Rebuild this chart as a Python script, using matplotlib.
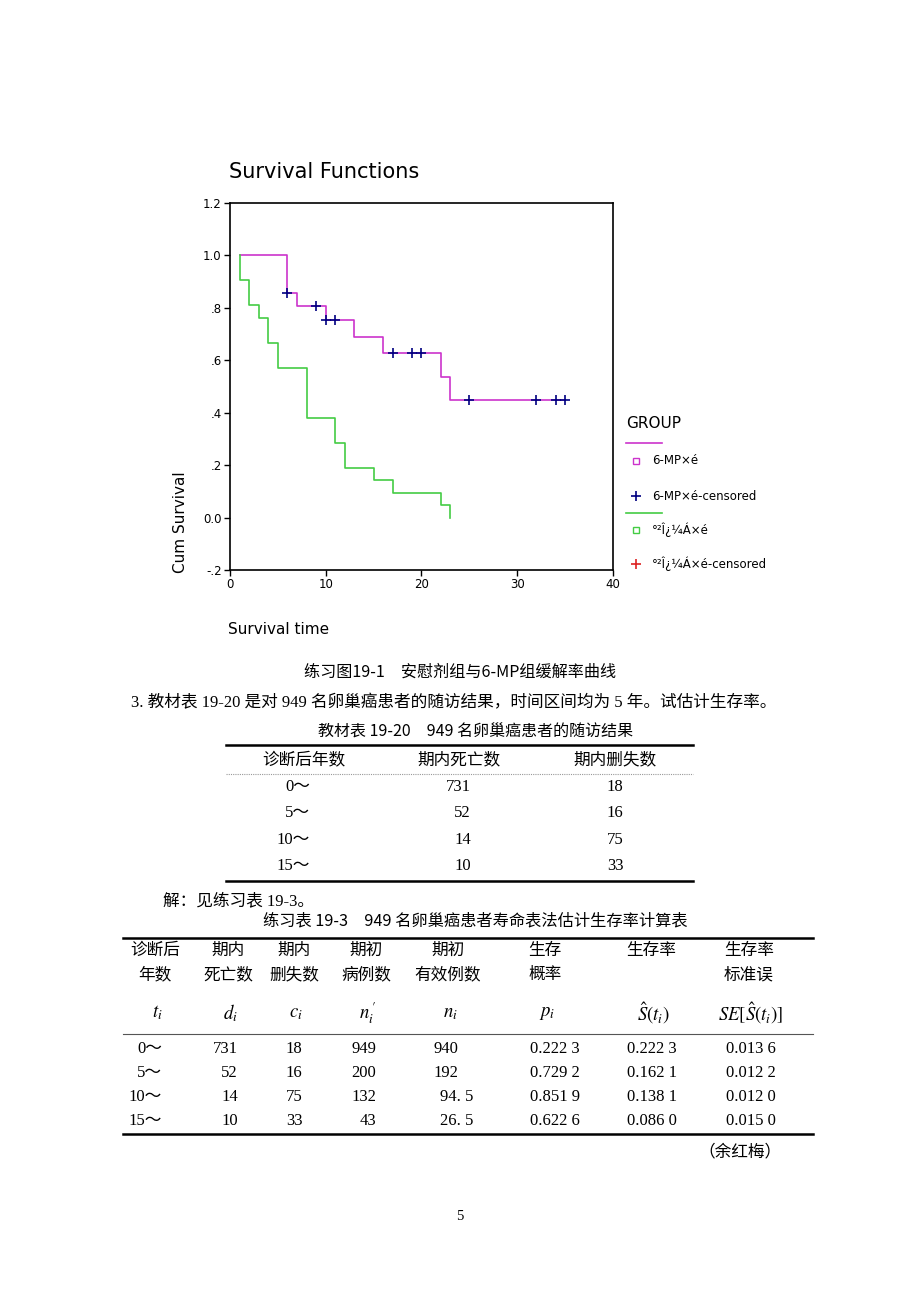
import numpy as np
import matplotlib as mpl
import matplotlib.pyplot as plt

# ---- survival chart data (Kaplan-Meier steps)
mp_t = [1, 6, 7, 10, 13, 16, 22, 23, 35]
mp_s = [1.0, 0.857, 0.807, 0.753, 0.690, 0.627, 0.538, 0.448, 0.448]
mp_cens_t = [6, 9, 10, 11, 17, 19, 20, 25, 32, 34, 35]
mp_cens_s = [0.857, 0.807, 0.753, 0.753, 0.627, 0.627, 0.627, 0.448, 0.448, 0.448, 0.448]
pl_t = [1, 1, 2, 3, 4, 5, 8, 11, 12, 15, 17, 22, 23]
pl_s = [1.0, 0.905, 0.810, 0.762, 0.667, 0.571, 0.381, 0.286, 0.190, 0.143, 0.095, 0.048, 0.0]

yticks = [-0.2, 0.0, 0.2, 0.4, 0.6, 0.8, 1.0, 1.2]
ytick_labels = ['-.2', '0.0', '.2', '.4', '.6', '.8', '1.0', '1.2']
xticks = [0, 10, 20, 30, 40]
legend_labels = ['6-MP×é', '6-MP×é-censored', '°²Î¿¼Á×é', '°²Î¿¼Á×é-censored']

# ---- tables
t1_header = ['诊断后年数', '期内死亡数', '期内删失数']
t1_years = ['0～', '5～', '10～', '15～']
t1_deaths = [731, 52, 14, 10]
t1_cens = [18, 16, 75, 33]

t2_head1 = ['诊断后', '期内', '期内', '期初', '期初', '生存', '生存率', '生存率']
t2_head2 = ['年数', '死亡数', '删失数', '病例数', '有效例数', '概率', '', '标准误']
t2_sym = [r'$t_i$', r'$d_i$', r'$c_i$', r'$n^{\,\prime}_{i}$', r'$n_i$', r'$p_i$',
          r'$\hat{S}(t_i)$', r'$SE[\hat{S}(t_i)]$']
t2_years = ['0～', '5～', '10～', '15～']
t2_d = [731, 52, 14, 10]
t2_c = [18, 16, 75, 33]
t2_n0 = [949, 200, 132, 43]
t2_n = ['940', '192', '94. 5', '26. 5']
t2_p = ['0.222 3', '0.729 2', '0.851 9', '0.622 6']
t2_s = ['0.222 3', '0.162 1', '0.138 1', '0.086 0']
t2_se = ['0.013 6', '0.012 2', '0.012 0', '0.015 0']

# ---- config
mpl.rcParams['mathtext.fontset'] = 'stix'
CJK = ['Noto Sans CJK SC', 'DejaVu Sans']
SERIF = ['Liberation Serif', 'Noto Sans CJK SC']
SANS = ['DejaVu Sans']
FS = 12

W, H = 920, 1302
fig = plt.figure(figsize=(W / 100, H / 100), dpi=100)
page = fig.add_axes([0, 0, 1, 1])
page.set_xlim(0, W)
page.set_ylim(H, 0)
page.axis('off')

# ---- chart
ax = fig.add_axes([230 / W, 1 - 570 / H, 383 / W, 367 / H])
ax.step(mp_t, mp_s, where='post', color='#cc33cc', lw=1.2)
ax.step(pl_t, pl_s, where='post', color='#44cc44', lw=1.2)
ax.plot(mp_cens_t, mp_cens_s, ls='none', marker='+', ms=7, mew=1.2, color='#000080')
ax.set_xlim(0, 40)
ax.set_ylim(-0.2, 1.2)
ax.set_xticks(xticks)
ax.set_yticks(yticks)
ax.set_yticklabels(ytick_labels)
ax.tick_params(labelsize=8.5, length=4, width=1, pad=2)
for s in ax.spines.values():
    s.set_linewidth(1.2)

page.text(229, 172, 'Survival Functions', fontsize=15, family=SANS, va='center')
page.text(181, 522, 'Cum Survival', fontsize=11, family=SANS, rotation=90, ha='center', va='center')
page.text(228, 629, 'Survival time', fontsize=11, family=SANS, va='center')

# legend
page.text(626, 424, 'GROUP', fontsize=11, family=SANS, va='center')
page.plot([626, 662], [443, 443], color='#cc33cc', lw=1.2)
page.plot([636], [461], marker='s', ms=4, mfc='none', mec='#cc33cc', mew=1)
page.plot([636], [496], marker='+', ms=7, mew=1.2, color='#000080')
page.plot([626, 662], [513, 513], color='#44cc44', lw=1.2)
page.plot([636], [530], marker='s', ms=4, mfc='none', mec='#44cc44', mew=1)
page.plot([636], [564], marker='+', ms=7, mew=1.2, color='#dd2222')
for yy, lab in zip([461, 496, 530, 564], legend_labels):
    page.text(652, yy, lab, fontsize=8.5, family=SANS, va='center')

# ---- text and table 1
page.text(460, 672, '练习图19-1　安慰剂组与6-MP组缓解率曲线', fontsize=11.6, family=CJK, ha='center', va='center')
page.text(131, 703, '3. 教材表 19-20 是对 949 名卵巢癌患者的随访结果，时间区间均为 5 年。试估计生存率。',
          fontsize=FS, family=SERIF, va='center')
page.text(318, 732, '教材表 19-20　949 名卵巢癌患者的随访结果', fontsize=11.5, family=CJK, va='center')

page.plot([226, 693], [745, 745], color='black', lw=1.8)
page.plot([226, 693], [774, 774], color='#999999', lw=0.8, ls=(0, (1, 1)))
page.plot([226, 693], [881, 881], color='black', lw=1.8)
for x, h in zip([304, 459, 615], t1_header):
    page.text(x, 760, h, fontsize=FS, family=SERIF, ha='center', va='center')
for i, yy in enumerate([787, 813, 840, 866]):
    page.text(310, yy, t1_years[i], fontsize=FS, family=SERIF, ha='right', va='center')
    page.text(471, yy, str(t1_deaths[i]), fontsize=FS, family=SERIF, ha='right', va='center')
    page.text(615, yy, str(t1_cens[i]), fontsize=FS, family=SERIF, ha='center', va='center')

# ---- table 2
page.text(163, 901, '解：见练习表 19-3。', fontsize=FS, family=SERIF, va='center')
page.text(263, 921, '练习表 19-3　949 名卵巢癌患者寿命表法估计生存率计算表', fontsize=11.7, family=CJK, va='center')
page.plot([123, 813], [938, 938], color='black', lw=1.8)
page.plot([123, 813], [1034, 1034], color='#555555', lw=0.8)
page.plot([123, 813], [1134, 1134], color='black', lw=1.8)

hx = [155, 228, 294, 366, 448, 545, 651, 749]
for j in range(8):
    page.text(hx[j], 951, t2_head1[j], fontsize=FS, family=SERIF, ha='center', va='center')
    page.text(hx[j], 975, t2_head2[j], fontsize=FS, family=SERIF, ha='center', va='center')
    page.text(hx[j] + 2, 1013, t2_sym[j], fontsize=13.5, ha='center', va='center')

for i, yy in enumerate([1049, 1073, 1097, 1121]):
    page.text(162, yy, t2_years[i], fontsize=FS, family=SERIF, ha='right', va='center')
    page.text(238, yy, str(t2_d[i]), fontsize=FS, family=SERIF, ha='right', va='center')
    page.text(294, yy, str(t2_c[i]), fontsize=FS, family=SERIF, ha='center', va='center')
    page.text(376, yy, str(t2_n0[i]), fontsize=FS, family=SERIF, ha='right', va='center')
    nx = 473 if '.' in t2_n[i] else 458
    page.text(nx, yy, t2_n[i], fontsize=FS, family=SERIF, ha='right', va='center')
    page.text(530, yy, t2_p[i], fontsize=FS, family=SERIF, ha='left', va='center')
    page.text(627, yy, t2_s[i], fontsize=FS, family=SERIF, ha='left', va='center')
    page.text(726, yy, t2_se[i], fontsize=FS, family=SERIF, ha='left', va='center')

page.text(782, 1152, '（余红梅）', fontsize=FS, family=SERIF, ha='right', va='center')
page.text(460, 1217, '5', fontsize=10.5, family=SERIF, ha='center', va='center')

fig.savefig('out.png', dpi=100)
